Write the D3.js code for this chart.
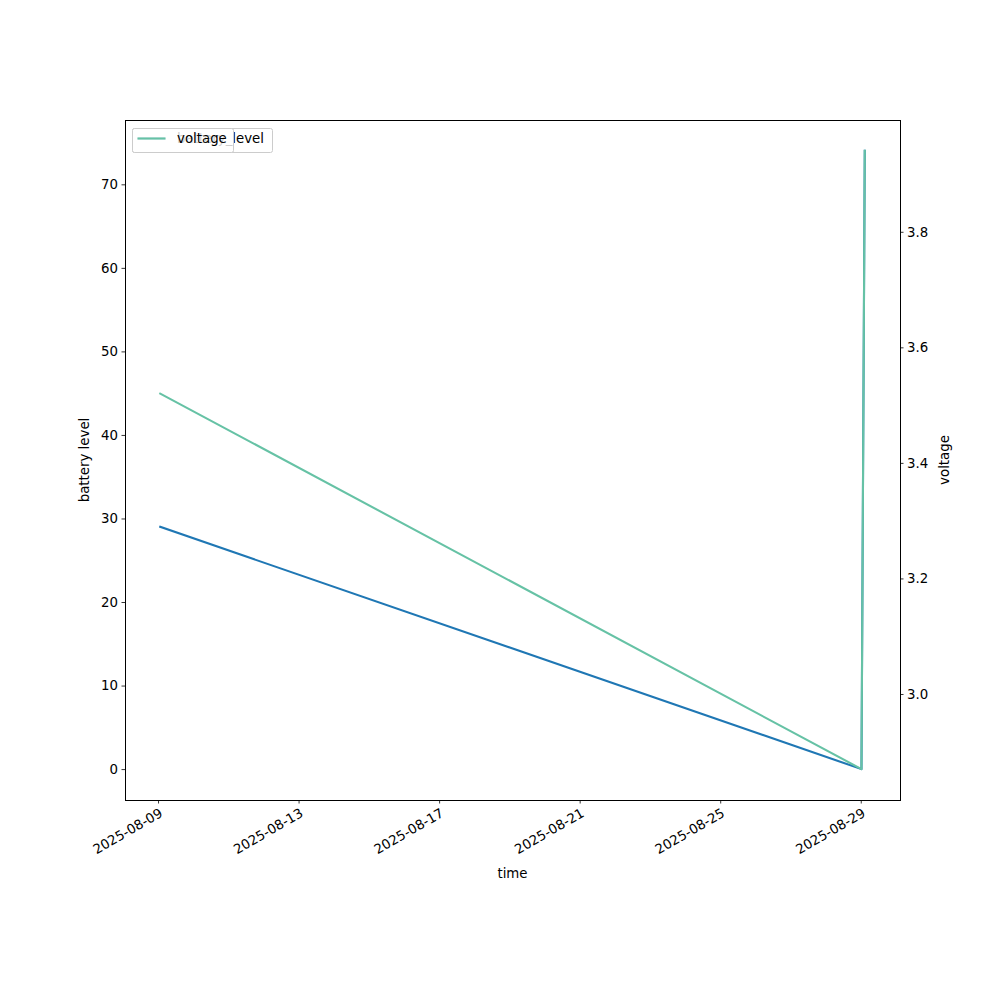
<!DOCTYPE html>
<html>
<head>
<meta charset="utf-8">
<script src="https://cdn.jsdelivr.net/npm/d3@7"></script>
<style>
  body { margin: 0; background: #fff; }
  svg { font-family: "DejaVu Sans", sans-serif; }
</style>
</head>
<body>
<svg id="viz"></svg>
<script>
var width = 1000;
var height = 1000;

// data
var times = ["2025-08-09T01:30", "2025-08-29T00:30", "2025-08-29T02:45"];
var batteryLevel = [29, 0, 74];
var voltage = [3.52, 2.87, 3.94];
var xTicks = ["2025-08-09", "2025-08-13", "2025-08-17", "2025-08-21", "2025-08-25", "2025-08-29"];
var leftTicks = [0, 10, 20, 30, 40, 50, 60, 70];
var rightTicks = [3.0, 3.2, 3.4, 3.6, 3.8];

var blue = "#1f77b4";
var green = "#66c2a5";

var parseTime = d3.timeParse("%Y-%m-%dT%H:%M");
var parseDay = d3.timeParse("%Y-%m-%d");
var dates = times.map(parseTime);

// axes box (window.top is reserved, so use plot* names)
var plotLeft = 125, plotRight = 900, plotTop = 120, plotBottom = 800;

function padded(ext) {
    var d = (ext[1] - ext[0]) * 0.05;
    return [ext[0] - d, ext[1] + d];
}

var x = d3.scaleTime().domain(padded(d3.extent(dates).map(Number))).range([plotLeft, plotRight]);
var y1 = d3.scaleLinear().domain(padded(d3.extent(batteryLevel))).range([plotBottom, plotTop]);
var y2 = d3.scaleLinear().domain(padded(d3.extent(voltage))).range([plotBottom, plotTop]);

var svg = d3.select("#viz").attr("width", width).attr("height", height);
svg.append("rect").attr("width", width).attr("height", height).attr("fill", "#fff");

var fs = "13.33px";

// battery line
var line1 = d3.line()
    .x(function(d, i) { return x(dates[i]); })
    .y(function(d) { return y1(d); });
svg.append("path")
    .datum(batteryLevel)
    .attr("d", line1)
    .attr("fill", "none")
    .attr("stroke", blue)
    .attr("stroke-width", 2.08)
    .attr("stroke-linejoin", "round")
    .attr("stroke-linecap", "square");

// x axis
var xAxis = svg.append("g")
    .attr("transform", "translate(0," + plotBottom + ")")
    .call(d3.axisBottom(x)
        .tickValues(xTicks.map(parseDay))
        .tickFormat(d3.timeFormat("%Y-%m-%d"))
        .tickSizeInner(3.5).tickSizeOuter(0).tickPadding(3.5));
xAxis.select(".domain").remove();
xAxis.selectAll("line").attr("stroke", "#000").attr("stroke-width", 0.8);
xAxis.selectAll("text")
    .attr("fill", "#000")
    .style("font-size", fs)
    .style("font-family", "DejaVu Sans")
    .attr("text-anchor", "end")
    .attr("dy", "0.75em")
    .attr("transform", "rotate(-30,0,7)")
    .attr("y", 7);

// left axis
var yAxis1 = svg.append("g")
    .attr("transform", "translate(" + plotLeft + ",0)")
    .call(d3.axisLeft(y1).tickValues(leftTicks).tickSizeInner(3.5).tickSizeOuter(0).tickPadding(3.5));
yAxis1.select(".domain").remove();
yAxis1.selectAll("line").attr("stroke", "#000").attr("stroke-width", 0.8);
yAxis1.selectAll("text").attr("fill", "#000").style("font-size", fs).style("font-family", "DejaVu Sans");

// legend of first axes (drawn before twin axes)
function legend(label, color, boxW) {
    var g = svg.append("g").attr("transform", "translate(132.5,128.5)");
    g.append("rect")
        .attr("width", boxW).attr("height", 24)
        .attr("rx", 2).attr("ry", 2)
        .attr("fill", "#fff").attr("fill-opacity", 0.8)
        .attr("stroke", "#ccc").attr("stroke-width", 1);
    g.append("line")
        .attr("x1", 5).attr("x2", 33).attr("y1", 10).attr("y2", 10)
        .attr("stroke", color).attr("stroke-width", 2.08);
    g.append("text")
        .attr("x", 44.5).attr("y", 10).attr("dy", "0.35em")
        .style("font-size", fs).attr("fill", "#000")
        .text(label);
}
legend("battery_level", blue, 140);

// voltage line on twin axes
var line2 = d3.line()
    .x(function(d, i) { return x(dates[i]); })
    .y(function(d) { return y2(d); });
svg.append("path")
    .datum(voltage)
    .attr("d", line2)
    .attr("fill", "none")
    .attr("stroke", green)
    .attr("stroke-width", 2.08)
    .attr("stroke-linejoin", "round")
    .attr("stroke-linecap", "square");

// right axis
var yAxis2 = svg.append("g")
    .attr("transform", "translate(" + plotRight + ",0)")
    .call(d3.axisRight(y2).tickValues(rightTicks).tickFormat(d3.format(".1f"))
        .tickSizeInner(3.5).tickSizeOuter(0).tickPadding(3.5));
yAxis2.select(".domain").remove();
yAxis2.selectAll("line").attr("stroke", "#000").attr("stroke-width", 0.8);
yAxis2.selectAll("text").attr("fill", "#000").style("font-size", fs).style("font-family", "DejaVu Sans");

// spines
svg.append("rect")
    .attr("x", plotLeft + 0.5).attr("y", plotTop + 0.5)
    .attr("width", plotRight - plotLeft).attr("height", plotBottom - plotTop)
    .attr("fill", "none").attr("stroke", "#000").attr("stroke-width", 1)
    .attr("shape-rendering", "crispEdges");

legend("voltage", green, 101);

// axis labels
svg.append("text")
    .attr("x", (plotLeft + plotRight) / 2).attr("y", 878)
    .attr("text-anchor", "middle").style("font-size", fs)
    .text("time");
svg.append("text")
    .attr("transform", "translate(89," + ((plotTop + plotBottom) / 2) + ") rotate(-90)")
    .attr("text-anchor", "middle").style("font-size", fs)
    .text("battery level");
svg.append("text")
    .attr("transform", "translate(949," + ((plotTop + plotBottom) / 2) + ") rotate(-90)")
    .attr("text-anchor", "middle").style("font-size", fs)
    .text("voltage");
</script>
</body>
</html>
